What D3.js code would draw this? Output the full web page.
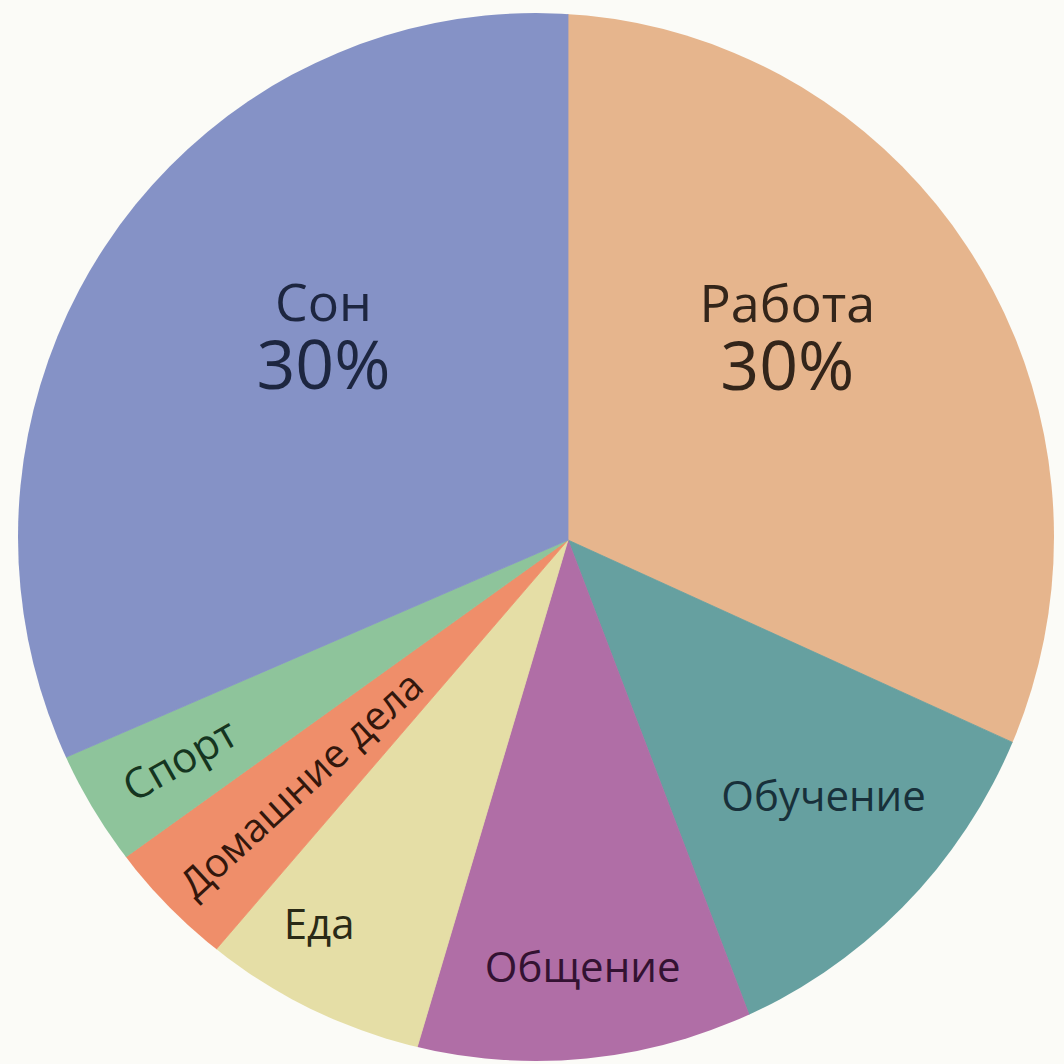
<!DOCTYPE html>
<html>
<head>
<meta charset="utf-8">
<script src="https://cdn.jsdelivr.net/npm/d3@7"></script>
<style>
  body { margin:0; background:#fbfbf7; }
  text { font-family:"Open Sans", "DejaVu Sans", sans-serif; font-weight:500; }
</style>
</head>
<body>
<div id="chart"></div>
<script>
var width = 1064, height = 1064;

// data (share of the day, slice order clockwise from top)
var categories = ["Работа","Обучение","Общение","Еда","Домашние дела","Спорт","Сон"]
var values = [31.8, 12.4, 10.4, 6.7, 3.8, 3.4, 31.5]
var pctLabels = ["30%","","","","","","30%"]
var sliceColors = ["#e6b58d","#66a0a0","#b06ea6","#e5dea6","#ef8e6a","#8ec49b","#8592c6"]
var textColors = ["#33251a","#18303a","#331232","#2a2a16","#33170c","#153520","#1d2640"]

// label placement: radius from the apex and a small angle nudge (degrees), rotate = follow the ray
var labelLayout = {
  "Работа": {r:287, nudge:-7.4, size:52, rotate:false},
  "Обучение": {r:362, nudge:-1.7, size:42, rotate:false},
  "Общение": {r:428, nudge:0.2, size:42, rotate:false},
  "Еда": {r:458, nudge:4.3, size:42, rotate:false},
  "Домашние дела": {r:362, nudge:0, size:40, rotate:true},
  "Спорт": {r:446, nudge:0, size:42, rotate:true},
  "Сон": {r:307, nudge:3.9, size:52, rotate:false}
}

// apex of the wedges and outline of the disc (the picture is slightly off-centre)
var apex = {x:568, y:540}
var disc = {cx:536, cy:537, rx:518, ry:524}

var svg = d3.select("#chart").append("svg")
  .attr("width", width)
  .attr("height", height)

svg.append("rect").attr("width", width).attr("height", height).attr("fill", "#fbfbf7")

svg.append("clipPath").attr("id", "discClip")
  .append("ellipse")
  .attr("cx", disc.cx).attr("cy", disc.cy)
  .attr("rx", disc.rx).attr("ry", disc.ry)

var pie = d3.pie().sort(null).value(function(d){ return d.value })
var tableData = categories.map(function(c, i){
  return {name:c, value:values[i], pct:pctLabels[i], fill:sliceColors[i], ink:textColors[i]}
})
var arcs = pie(tableData)

var arc = d3.arc().innerRadius(0).outerRadius(900)

var g = svg.append("g")
  .attr("clip-path", "url(#discClip)")
  .append("g")
  .attr("transform", "translate(" + apex.x + "," + apex.y + ")")

g.selectAll("path").data(arcs).enter()
  .append("path")
  .attr("d", arc)
  .attr("fill", function(d){ return d.data.fill })
  .attr("stroke", function(d){ return d.data.fill })
  .attr("stroke-width", 0.8)

// labels
var labels = svg.append("g")
  .attr("transform", "translate(" + apex.x + "," + apex.y + ")")

arcs.forEach(function(d){
  var lay = labelLayout[d.data.name]
  var mid = (d.startAngle + d.endAngle) / 2 + lay.nudge * Math.PI / 180
  var p = d3.pointRadial(mid, lay.r)
  var t = labels.append("g")
    .attr("transform", function(){
      var s = "translate(" + p[0] + "," + p[1] + ")"
      if(lay.rotate) s += " rotate(" + (mid * 180 / Math.PI - 270) + ")"
      return s
    })
  if(d.data.pct !== ""){
    // name and percentage as two lines of one text
    var txt = t.append("text")
      .attr("text-anchor", "middle")
      .attr("fill", d.data.ink)
    txt.append("tspan")
      .attr("x", 0)
      .attr("y", -33)
      .attr("font-size", lay.size)
      .text(d.data.name)
    txt.append("tspan")
      .attr("x", 0)
      .attr("y", 35)
      .attr("font-size", 68)
      .text(d.data.pct)
  }else{
    t.append("text")
      .attr("text-anchor", "middle")
      .attr("dy", "0.35em")
      .attr("font-size", lay.size)
      .attr("fill", d.data.ink)
      .text(d.data.name)
  }
})
</script>
</body>
</html>
